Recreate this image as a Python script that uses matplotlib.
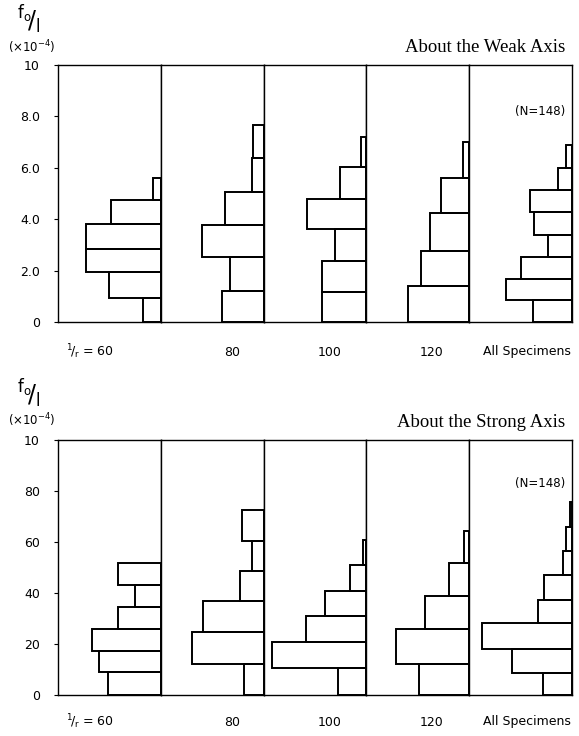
import matplotlib.pyplot as plt
import numpy as np

# panel captions under each row of histograms
panel_labels = [r"$\mathregular{^{1}\!/_{r}}$ = 60", "80", "100", "120",
                "All Specimens"]

# About the weak axis: class edges of f0/l (x10^-4) and bar lengths (relative)
weak_edges_60 = [0, 0.93, 1.95, 2.84, 3.81, 4.75, 5.6]
weak_freq_60 = [17, 50, 73, 73, 48, 8]
weak_edges_80 = [0, 1.2, 2.53, 3.77, 5.06, 6.38, 7.67]
weak_freq_80 = [40, 33, 60, 38, 11, 10]
weak_edges_100 = [0, 1.18, 2.36, 3.62, 4.8, 6.02, 7.2]
weak_freq_100 = [43, 43, 31, 58, 26, 5]
weak_edges_120 = [0, 1.39, 2.77, 4.23, 5.61, 7.0]
weak_freq_120 = [60, 47, 38, 27, 6]
weak_edges_all = [0, 0.84, 1.68, 2.52, 3.4, 4.28, 5.12, 6.0, 6.88]
weak_freq_all = [38, 64, 50, 23, 37, 41, 14, 6]

# About the strong axis
strong_edges_60 = [0, 0.91, 1.74, 2.6, 3.45, 4.33, 5.16]
strong_freq_60 = [51, 60, 67, 42, 25, 42]
strong_edges_80 = [0, 1.21, 2.46, 3.68, 4.87, 6.05, 7.27]
strong_freq_80 = [19, 70, 59, 23, 11, 21]
strong_edges_100 = [0, 1.07, 2.09, 3.08, 4.07, 5.1, 6.09]
strong_freq_100 = [28, 92, 59, 40, 16, 3]
strong_edges_120 = [0, 1.23, 2.57, 3.87, 5.18, 6.44]
strong_freq_120 = [49, 71, 43, 20, 5]
strong_edges_all = [0, 0.87, 1.82, 2.81, 3.72, 4.7, 5.65, 6.6, 7.55]
strong_freq_all = [28, 58, 88, 33, 27, 9, 6, 2]

weak_ticks = ["0", "2.0", "4.0", "6.0", "8.0", "10"]
strong_ticks = ["0", "20", "40", "60", "80", "10"]
n_total = 148

W, H = 579, 736


def draw_row(fig, bottom_px, top_px, edges_list, freq_list, ticks,
             title, label_y, title_y, n_y, unit_y, f_y):
    left_px, panel_w = 58, 102.8
    for i, (edges, freq) in enumerate(zip(edges_list, freq_list)):
        ax = fig.add_axes([(left_px + i * panel_w) / W, 1 - bottom_px / H,
                           panel_w / W, (bottom_px - top_px) / H])
        edges = np.array(edges)
        ax.barh(edges[:-1], freq, height=np.diff(edges), align="edge",
                fill=False, edgecolor="black", linewidth=1.4)
        ax.set_xlim(100, 0)
        ax.set_ylim(0, 10)
        ax.set_xticks([])
        for s in ax.spines.values():
            s.set_linewidth(1.0)
        if i == 0:
            ax.set_yticks([0, 2, 4, 6, 8, 10])
            ax.set_yticklabels(ticks, fontsize=9)
            ax.tick_params(axis="y", length=3, pad=10)
        else:
            ax.set_yticks([])
    fig.text(565 / W, 1 - n_y / H, f"(N={n_total})", ha="right",
             va="center", fontsize=8.5)
    label_x = [90, 232, 330, 432, 527]
    for x, lab in zip(label_x, panel_labels):
        fig.text(x / W, 1 - label_y / H, lab, ha="center", va="center",
                 fontsize=9)
    fig.text(565 / W, 1 - title_y / H, title, ha="right", va="center",
             fontsize=13.5, family="Liberation Serif")
    fig.text(29 / W, 1 - f_y / H, r"$\mathregular{^{f_o}\!/_{l}}$",
             ha="center", va="center", fontsize=17)
    fig.text(32 / W, 1 - unit_y / H, "(×10$^{-4}$)", ha="center",
             va="center", fontsize=8.5)


def main():
    fig = plt.figure(figsize=(W / 100, H / 100), dpi=100)
    fig.patch.set_facecolor("white")
    draw_row(fig, 322, 65,
             [weak_edges_60, weak_edges_80, weak_edges_100,
              weak_edges_120, weak_edges_all],
             [weak_freq_60, weak_freq_80, weak_freq_100,
              weak_freq_120, weak_freq_all],
             weak_ticks, "About the Weak Axis", 352, 47, 112, 47, 20)
    draw_row(fig, 695, 440,
             [strong_edges_60, strong_edges_80, strong_edges_100,
              strong_edges_120, strong_edges_all],
             [strong_freq_60, strong_freq_80, strong_freq_100,
              strong_freq_120, strong_freq_all],
             strong_ticks, "About the Strong Axis", 722, 422, 483, 420, 394)
    fig.savefig("out.png", dpi=100)


if __name__ == "__main__":
    main()
